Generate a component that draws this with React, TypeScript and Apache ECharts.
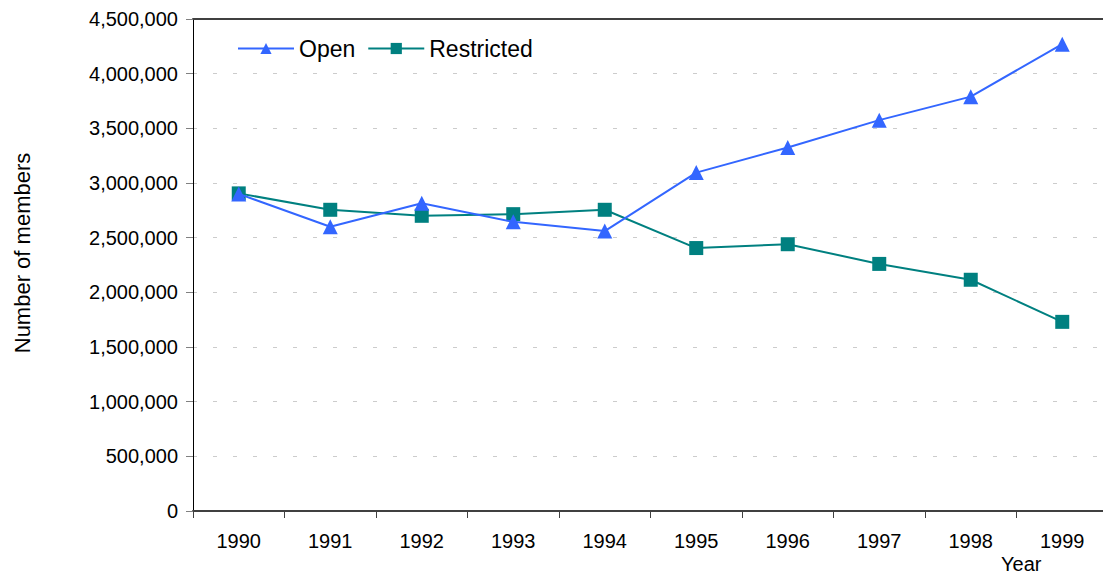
import React, { useEffect, useRef } from "react";
import * as echarts from "echarts";

const years = ["1990", "1991", "1992", "1993", "1994", "1995", "1996", "1997", "1998", "1999"];
const openMembers = [2900000, 2600000, 2815000, 2645000, 2560000, 3095000, 3325000, 3575000, 3790000, 4270000];
const restrictedMembers = [2905000, 2755000, 2700000, 2715000, 2755000, 2405000, 2440000, 2260000, 2115000, 1730000];
const yMin = 0;
const yMax = 4500000;
const yStep = 500000;

const FONT = "'Liberation Sans', Arial, sans-serif";

export default function App() {
  const ref = useRef<HTMLDivElement>(null);
  useEffect(() => {
    if (!ref.current) return;
    const chart = echarts.init(ref.current, null, { renderer: "svg" });
    chart.setOption({
      animation: false,
      backgroundColor: "#ffffff",
      textStyle: { fontFamily: FONT },
      legend: {
        left: 232,
        top: 32,
        itemWidth: 56,
        itemHeight: 14,
        itemGap: 12,
        textStyle: { fontSize: 23, color: "#000", fontFamily: FONT },
        data: ["Open", "Restricted"],
      },
      grid: { left: 193, top: 19, right: 0, bottom: 63, containLabel: false },
      xAxis: [
        {
          type: "category",
          data: years,
          boundaryGap: true,
          axisLine: { show: true, lineStyle: { color: "#404040", width: 2 } },
          axisTick: { show: true, length: 7, alignWithLabel: false, lineStyle: { color: "#404040", width: 1 } },
          axisLabel: { fontSize: 20, color: "#000", margin: 20, fontFamily: FONT },
          splitLine: { show: false },
        },
        {
          type: "category",
          data: years,
          position: "top",
          axisLine: { show: true, lineStyle: { color: "#404040", width: 2 } },
          axisTick: { show: false },
          axisLabel: { show: false },
        },
      ],
      yAxis: {
        type: "value",
        min: yMin,
        max: yMax,
        interval: yStep,
        axisLine: { show: true, lineStyle: { color: "#000", width: 1 } },
        axisTick: { show: true, length: 7, lineStyle: { color: "#808080" } },
        axisLabel: {
          fontSize: 20,
          color: "#000",
          margin: 15,
          fontFamily: FONT,
          formatter: (v: number) => v.toLocaleString("en-US"),
        },
        splitLine: { show: true, lineStyle: { color: "#cccccc", type: [4, 16], width: 1 } },
      },
      graphic: [
        {
          type: "text",
          x: 22,
          y: 253,
          rotation: Math.PI / 2,
          style: {
            text: "Number of members",
            fontSize: 22,
            fill: "#000",
            fontFamily: FONT,
            align: "center",
            verticalAlign: "middle",
          },
        },
        {
          type: "text",
          left: 1001,
          top: 554,
          style: { text: "Year", fontSize: 20, fill: "#000", fontFamily: FONT },
        },
      ],
      series: [
        {
          name: "Open",
          type: "line",
          data: openMembers,
          symbol: "triangle",
          symbolSize: 15,
          lineStyle: { color: "#3366ff", width: 2 },
          itemStyle: { color: "#3366ff" },
          z: 3,
        },
        {
          name: "Restricted",
          type: "line",
          data: restrictedMembers,
          symbol: "rect",
          symbolSize: 14,
          lineStyle: { color: "#008080", width: 2 },
          itemStyle: { color: "#008080" },
          z: 2,
        },
      ],
    });
    return () => chart.dispose();
  }, []);
  return (
    <div
      ref={ref}
      style={{ position: "fixed", left: 0, top: 0, width: "1108px", height: "574px", background: "#fff" }}
    />
  );
}
